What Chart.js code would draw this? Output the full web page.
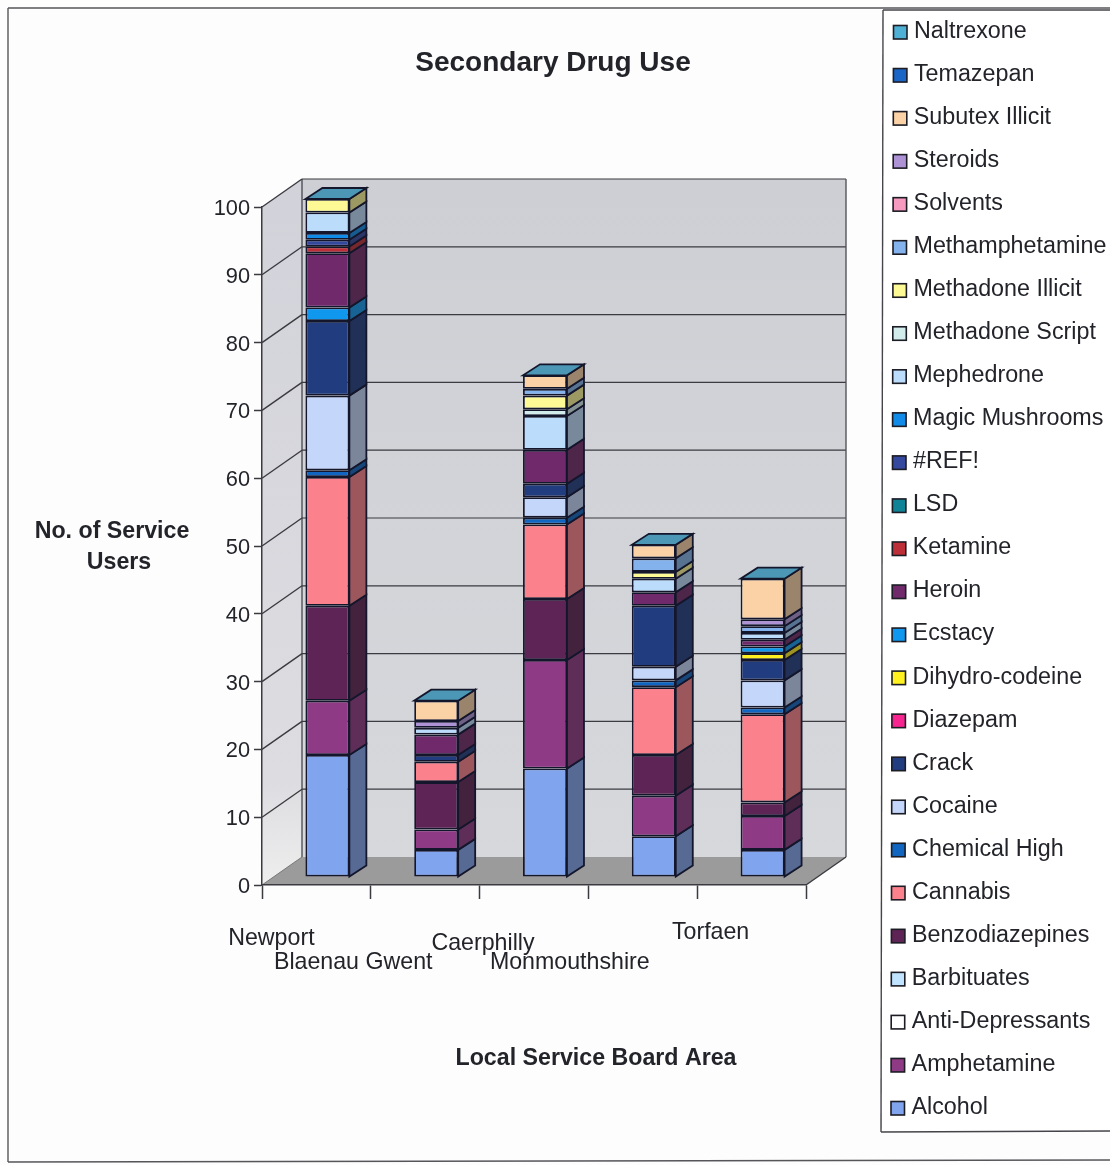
<!DOCTYPE html>
<html>
<head>
<meta charset="utf-8">
<title>Secondary Drug Use</title>
<script src="https://cdn.jsdelivr.net/npm/chart.js@4"></script>
<style>
html,body{margin:0;padding:0;background:#fdfdfd}
canvas{display:block}
</style>
</head>
<body>
<div style="width:1110px;height:1165px"><canvas id="c"></canvas></div>
<script>
// Service users by local service board area, one array per substance (area order as in `areas`).
const areas = ['Newport', 'Blaenau Gwent', 'Caerphilly', 'Monmouthshire', 'Torfaen'];
const alcohol          = [18, 4, 16, 6, 4];
const amphetamine      = [8, 3, 16, 6, 5];
const antiDepressants  = [0, 0, 0, 0, 0];
const barbituates      = [0, 0, 0, 0, 0];
const benzodiazepines  = [14, 7, 9, 6, 2];
const cannabis         = [19, 3, 11, 10, 13];
const chemicalHigh     = [1, 0, 1, 1, 1];
const cocaine          = [11, 0, 3, 2, 4];
const crack            = [11, 1, 2, 9, 3];
const diazepam         = [0, 0, 0, 0, 0];
const dihydroCodeine   = [0, 0, 0, 0, 1];
const ecstacy          = [2, 0, 0, 0, 1];
const heroin           = [8, 3, 5, 2, 1];
const ketamine         = [1, 0, 0, 0, 0];
const lsd              = [0, 0, 0, 0, 0];
const refError         = [1, 0, 0, 0, 0];
const magicMushrooms   = [1, 0, 0, 0, 0];
const mephedrone       = [3, 1, 5, 2, 1];
const methadoneScript  = [0, 0, 1, 0, 0];
const methadoneIllicit = [2, 0, 2, 1, 0];
const methamphetamine  = [0, 0, 1, 2, 1];
const solvents         = [0, 0, 0, 0, 0];
const steroids         = [0, 1, 0, 0, 1];
const subutexIllicit   = [0, 3, 2, 2, 6];
const temazepan        = [0, 0, 0, 0, 0];
const naltrexone       = [0, 0, 0, 0, 0];

// Stack order runs bottom to top; the key is listed the other way round.
const series = [
  ['Alcohol', alcohol, '#80a4ee'],
  ['Amphetamine', amphetamine, '#8f3a84'],
  ['Anti-Depressants', antiDepressants, '#ffffff'],
  ['Barbituates', barbituates, '#c0e4ff'],
  ['Benzodiazepines', benzodiazepines, '#5e2456'],
  ['Cannabis', cannabis, '#fb828c'],
  ['Chemical High', chemicalHigh, '#1066c0'],
  ['Cocaine', cocaine, '#c4d6fa'],
  ['Crack', crack, '#223c80'],
  ['Diazepam', diazepam, '#f82590'],
  ['Dihydro-codeine', dihydroCodeine, '#fff020'],
  ['Ecstacy', ecstacy, '#1098ee'],
  ['Heroin', heroin, '#702a6c'],
  ['Ketamine', ketamine, '#bd2f38'],
  ['LSD', lsd, '#108496'],
  ['#REF!', refError, '#34489e'],
  ['Magic Mushrooms', magicMushrooms, '#108ce8'],
  ['Mephedrone', mephedrone, '#bcdcfc'],
  ['Methadone Script', methadoneScript, '#d2ecec'],
  ['Methadone Illicit', methadoneIllicit, '#fdfa96'],
  ['Methamphetamine', methamphetamine, '#84b2ec'],
  ['Solvents', solvents, '#f79abf'],
  ['Steroids', steroids, '#ad92d6'],
  ['Subutex Illicit', subutexIllicit, '#fad2a6'],
  ['Temazepan', temazepan, '#1a66c6'],
  ['Naltrexone', naltrexone, '#4fb0d6'],
];

const gridValues = [10, 20, 30, 40, 50, 60, 70, 80, 90, 100];
const TEXT = '#22242a', LINE = '#3a3a40', EDGE = '#14162c';
const FONT = '"Liberation Sans", Arial, sans-serif';
// Depth of the box: full floor depth, the bars' inset from the front edge, and bar depth.
const WALL = {dx: 40, dy: -28}, INSET = {dx: 11, dy: -8}, BAR = {dx: 17, dy: -11};
const labelShift = [-45, -72, -51, -73, -41];
const labelRow = [939, 963, 944, 963, 933];

function shade(hex, f) {
  const n = parseInt(hex.slice(1), 16);
  const c = v => Math.round(v * f + 14);
  return `rgb(${c(n >> 16)},${c((n >> 8) & 255)},${c(n & 255)})`;
}
function poly(ctx, pts, fill, stroke, width) {
  ctx.beginPath();
  pts.forEach((p, i) => i ? ctx.lineTo(p[0], p[1]) : ctx.moveTo(p[0], p[1]));
  ctx.closePath();
  if (fill) { ctx.fillStyle = fill; ctx.fill(); }
  if (stroke) { ctx.strokeStyle = stroke; ctx.lineWidth = width; ctx.stroke(); }
}
function seg(ctx, x0, y0, x1, y1, color, width) {
  ctx.beginPath(); ctx.moveTo(x0, y0); ctx.lineTo(x1, y1);
  ctx.strokeStyle = color; ctx.lineWidth = width; ctx.stroke();
}

const box3d = {
  id: 'box3d',
  // The heading is centred on the whole page, not just the plot.
  afterLayout(chart) {
    chart.titleBlock.left = 0;
    chart.titleBlock.right = 1106;
  },
  // Outer frame, walls, floor and wall gridlines sit behind the axes.
  beforeDraw(chart) {
    const ctx = chart.ctx, {left, right, top, bottom} = chart.chartArea, y = chart.scales.y;
    const d = WALL;
    ctx.save();
    ctx.fillStyle = '#fdfdfd'; ctx.fillRect(0, 0, chart.width, chart.height);

    const back = ctx.createLinearGradient(0, top + d.dy, 0, bottom + d.dy);
    back.addColorStop(0, '#cdcfd4'); back.addColorStop(1, '#d6d8dc');
    poly(ctx, [[left + d.dx, top + d.dy], [right + d.dx, top + d.dy], [right + d.dx, bottom + d.dy], [left + d.dx, bottom + d.dy]], back);
    const side = ctx.createLinearGradient(0, top, 0, bottom);
    side.addColorStop(0, '#d2d2da'); side.addColorStop(0.85, '#dddde1'); side.addColorStop(1, '#eeeeee');
    poly(ctx, [[left, bottom], [left, top], [left + d.dx, top + d.dy], [left + d.dx, bottom + d.dy]], side);
    poly(ctx, [[left, bottom], [right, bottom], [right + d.dx, bottom + d.dy], [left + d.dx, bottom + d.dy]], '#9b9b9b');

    gridValues.forEach(v => {
      const py = y.getPixelForValue(v);
      seg(ctx, left, py, left + d.dx, py + d.dy, LINE, 1.4);
      seg(ctx, left + d.dx, py + d.dy, right + d.dx, py + d.dy, LINE, 1.2);
    });
    seg(ctx, left + d.dx, top + d.dy, left + d.dx, bottom + d.dy, LINE, 1.2);
    seg(ctx, right + d.dx, top + d.dy, right + d.dx, bottom + d.dy, '#55555a', 1.4);
    seg(ctx, right, bottom, right + d.dx, bottom + d.dy, LINE, 1.4);
    seg(ctx, left, bottom, left + d.dx, bottom + d.dy, '#77777a', 1);
    ctx.restore();
  },
  // Side and top faces come first, shifted to the bars' depth; the library then fills the fronts.
  beforeDatasetsDraw(chart) {
    const ctx = chart.ctx;
    ctx.save();
    ctx.translate(INSET.dx, INSET.dy);
    chart.data.datasets.forEach((ds, di) => {
      chart.getDatasetMeta(di).data.forEach((bar, i) => {
        if (!ds.data[i]) return;
        const {x, y, base, width} = bar.getProps(['x', 'y', 'base', 'width'], true);
        const r = x + width / 2;
        poly(ctx, [[r, y], [r, base], [r + BAR.dx, base + BAR.dy], [r + BAR.dx, y + BAR.dy]], shade(ds.backgroundColor, 0.56), EDGE, 1.8);
      });
    });
    const last = chart.data.datasets.length - 1;
    chart.getDatasetMeta(last).data.forEach(bar => {
      const {x, y, width} = bar.getProps(['x', 'y', 'width'], true);
      const l = x - width / 2, r = x + width / 2;
      poly(ctx, [[l, y], [r, y], [r + BAR.dx, y + BAR.dy], [l + BAR.dx, y + BAR.dy]], shade(chart.data.datasets[last].backgroundColor, 0.78), EDGE, 1.8);
    });
  },
  afterDatasetsDraw(chart) {
    chart.ctx.restore();
  },
  // Staggered area names, axis captions, the key and the page frame.
  afterDraw(chart) {
    const ctx = chart.ctx, x = chart.scales.x;
    ctx.save();
    ctx.fillStyle = TEXT; ctx.textBaseline = 'middle'; ctx.textAlign = 'center';
    ctx.font = `23.2px ${FONT}`;
    areas.forEach((name, i) => ctx.fillText(name, x.getPixelForValue(i) + labelShift[i], labelRow[i]));

    ctx.font = `bold 23.2px ${FONT}`;
    ctx.fillText('No. of Service', 112, 532);
    ctx.fillText('Users', 119, 563);
    ctx.fillText('Local Service Board Area', 596, 1059);

    seg(ctx, 8, 8, 1110, 8, '#55555a', 1.4);
    seg(ctx, 8, 8, 8, 1162, '#55555a', 1.4);
    seg(ctx, 8, 1162, 1110, 1160, '#55555a', 1.4);

    ctx.fillStyle = '#ffffff';
    ctx.beginPath(); ctx.moveTo(883, 10); ctx.lineTo(1110, 10); ctx.lineTo(1110, 1132); ctx.lineTo(881, 1132); ctx.closePath(); ctx.fill();
    seg(ctx, 883, 10, 1110, 10, '#44444a', 1.4);
    seg(ctx, 883, 10, 881, 1132, '#44444a', 1.4);
    seg(ctx, 881, 1132, 1110, 1131, '#44444a', 1.4);

    ctx.textAlign = 'left'; ctx.font = `23.3px ${FONT}`;
    const n = series.length;
    series.slice().reverse().forEach((s, row) => {
      const cy = 31.5 + row * 43.04;
      const sx = 893.5 - 2.5 * row / (n - 1);
      ctx.fillStyle = s[2]; ctx.fillRect(sx, cy - 6, 13.5, 13.5);
      ctx.strokeStyle = '#1c1c24'; ctx.lineWidth = 1.6; ctx.strokeRect(sx, cy - 6, 13.5, 13.5);
      ctx.fillStyle = TEXT;
      ctx.fillText(s[0], sx + 20.5, cy);
    });
    ctx.restore();
  }
};

new Chart(document.getElementById('c'), {
  type: 'bar',
  data: {
    labels: areas,
    datasets: series.map(s => ({
      label: s[0], data: s[1], backgroundColor: s[2],
      borderColor: EDGE, borderWidth: 1.8, borderSkipped: false,
      categoryPercentage: 1, barPercentage: 0.404, clip: false
    }))
  },
  plugins: [box3d],
  options: {
    responsive: true,
    maintainAspectRatio: false,
    animation: false,
    layout: {padding: {left: 162, right: 304, top: 0, bottom: 0}},
    plugins: {
      legend: {display: false},
      tooltip: {enabled: false},
      title: {
        display: true, text: 'Secondary Drug Use', color: TEXT,
        font: {family: FONT, size: 28, weight: 'bold'},
        padding: {top: 46, bottom: 127.4}
      }
    },
    scales: {
      x: {
        stacked: true,
        afterFit(s) { s.height = 280; },
        ticks: {display: false},
        border: {color: LINE, width: 1.5},
        grid: {drawOnChartArea: false, drawTicks: true, tickLength: 14, tickColor: LINE, tickWidth: 1.5}
      },
      y: {
        stacked: true, min: 0, max: 100,
        afterFit(s) { s.width = 100; },
        ticks: {stepSize: 10, color: TEXT, padding: 4, labelOffset: 2, font: {family: FONT, size: 21.8}},
        border: {color: LINE, width: 1.5},
        grid: {drawOnChartArea: false, drawTicks: true, tickLength: 8, tickColor: LINE, tickWidth: 1.5}
      }
    }
  }
});
</script>
</body>
</html>
